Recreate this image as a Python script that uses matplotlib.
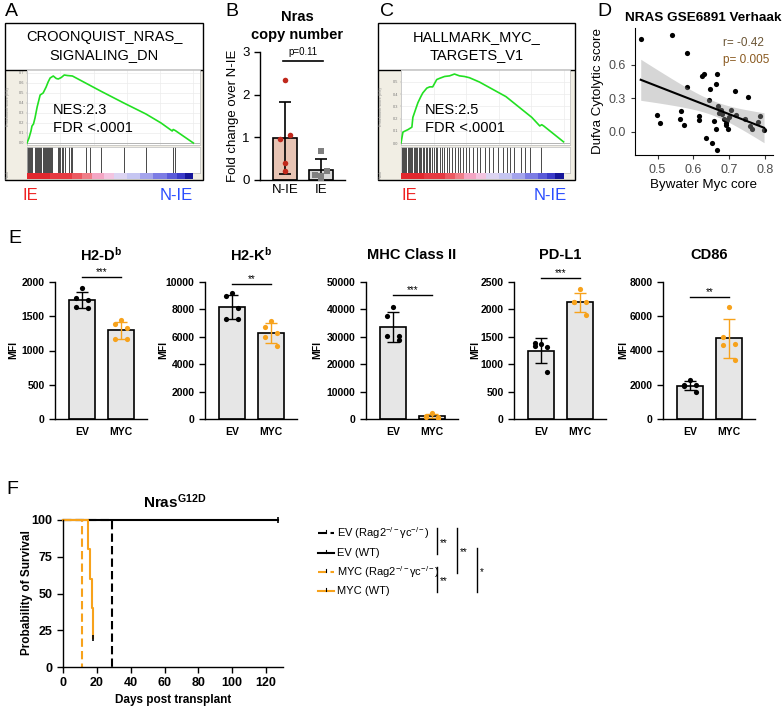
import numpy as np
import matplotlib
matplotlib.use("Agg")
import matplotlib.pyplot as plt
from matplotlib.patches import Rectangle

plt.rcParams["font.family"] = ["Liberation Sans", "DejaVu Sans"]
plt.rcParams["mathtext.fontset"] = "custom"
plt.rcParams["mathtext.rm"] = "Liberation Sans"
plt.rcParams["mathtext.it"] = "Liberation Sans:italic"
plt.rcParams["mathtext.bf"] = "Liberation Sans:bold"
plt.rcParams["axes.linewidth"] = 1.0

# ---------------- data ----------------
# A / C : GSEA running enrichment score, rank given as % of the ranked list
es_a_rank = [0, 1.2, 2.4, 3.0, 3.9, 4.8, 6.1, 7.3, 7.9, 9.7, 11.5, 12.7, 13.9, 15.8,
             17.6, 18.8, 20.6, 22.4, 24.2, 27.3, 35.2, 44.2, 58.2, 71.5, 80.6, 87.3,
             87.9, 89.1, 100]
es_a_score = [0, 0.05, 0.12, 0.17, 0.19, 0.25, 0.36, 0.44, 0.48, 0.50, 0.56, 0.61, 0.65,
              0.67, 0.645, 0.64, 0.655, 0.68, 0.675, 0.67, 0.60, 0.52, 0.40, 0.29, 0.20,
              0.12, 0.135, 0.125, 0.0]
hits_a = [0.3, 0.9, 1.5, 2.1, 2.7, 3.3, 4.8, 5.5, 6.1, 6.7, 7.3, 7.9, 8.5, 9.7, 10.3,
          10.9, 11.5, 12.1, 12.7, 13.3, 13.9, 14.5, 15.2, 18.8, 19.4, 20.0, 20.9, 21.8,
          22.7, 25.5, 26.4, 27.3, 35.2, 37.6, 44.2, 58.2, 71.5, 87.9, 89.1]

es_c_rank = [0, 1.2, 4.3, 6.7, 7.3, 9.1, 10.4, 12.2, 13.4, 15.9, 17.7, 19.5, 22.0, 23.8,
             26.8, 29.9, 32.9, 36.0, 39.0, 42.1, 48.2, 64.6, 80.5, 85.4, 86.6, 87.8, 100]
es_c_score = [0, 0.09, 0.11, 0.13, 0.21, 0.28, 0.33, 0.38, 0.41, 0.45, 0.46, 0.46, 0.52,
              0.53, 0.545, 0.55, 0.565, 0.55, 0.545, 0.535, 0.50, 0.38, 0.21, 0.14, 0.15,
              0.14, 0.01]
hits_c = [0.5, 1.2, 2.0, 2.6, 3.3, 4.1, 4.8, 5.6, 6.2, 7.0, 7.8, 8.5, 9.3, 10.1, 11.0,
          11.8, 12.6, 13.5, 14.2, 15.1, 16.0, 17.0, 17.9, 19.0, 20.1, 21.3, 22.4, 23.8,
          25.2, 26.5, 28.0, 29.6, 31.3, 33.0, 34.8, 36.5, 38.3, 40.2, 42.0, 44.3, 46.5,
          48.9, 51.5, 54.1, 56.8, 59.5, 62.5, 65.0, 67.0, 69.5, 73.8, 76.2, 79.3, 86.0]
rank_edges = [0, 14, 27, 33, 39, 46, 52, 60, 68, 76, 84, 90, 95, 100]
rank_colors = ["#e2282e", "#e63a42", "#ec5a62", "#f07e88", "#f4a6c4", "#f3c4e0",
               "#dcd4f2", "#c6c6f2", "#a4a4ec", "#7c7ce4", "#5a5ad8", "#3b3bc8", "#16169a"]

# B : Nras copy number
b_groups = ["N-IE", "IE"]
b_nie = [2.35, 1.05, 0.95, 0.40, 0.20]
b_ie = [0.68, 0.20, 0.12, 0.10, 0.02]

# D : Bywater Myc core vs Dufva cytolytic score
d_myc = [0.453, 0.541, 0.583, 0.583, 0.497, 0.508, 0.563, 0.566, 0.574, 0.616, 0.616,
         0.624, 0.630, 0.634, 0.645, 0.643, 0.651, 0.657, 0.662, 0.665, 0.664, 0.665,
         0.668, 0.676, 0.680, 0.686, 0.690, 0.694, 0.697, 0.692, 0.704, 0.717, 0.720,
         0.743, 0.753, 0.758, 0.763, 0.781, 0.786, 0.797, 0.672, 0.700]
d_cyt = [0.83, 0.87, 0.71, 0.40, 0.15, 0.08, 0.12, 0.19, 0.06, 0.14, 0.11, 0.50, 0.52,
         -0.05, 0.38, 0.29, -0.10, 0.10, 0.03, 0.52, 0.43, -0.16, 0.23, 0.20, 0.16, 0.12,
         0.08, 0.11, 0.03, 0.06, 0.20, 0.37, 0.15, 0.12, 0.31, 0.05, 0.03, 0.09, 0.14,
         0.02, 0.17, 0.13]

# E : MFI of surface markers
e_titles = ["H2-D$^{\\mathbf{b}}$", "H2-K$^{\\mathbf{b}}$", "MHC Class II", "PD-L1", "CD86"]
e_groups = ["EV", "MYC"]
e_ev = [[1910, 1760, 1740, 1640, 1620],
        [9200, 9000, 8100, 7300, 7300],
        [40900, 37500, 30200, 30200, 29000],
        [1360, 1340, 1320, 1380, 850],
        [2250, 2000, 2000, 1900, 1560]]
e_myc = [[1445, 1380, 1325, 1165, 1165],
         [7150, 6700, 6250, 5950, 5300],
         [2200, 1000, 800, 600, 500],
         [2370, 2130, 2130, 2130, 1890],
         [6550, 4800, 4400, 4350, 3470]]
e_yticks = [[0, 500, 1000, 1500, 2000],
            [0, 2000, 4000, 6000, 8000, 10000],
            [0, 10000, 20000, 30000, 40000, 50000],
            [0, 500, 1000, 1500, 2000, 2500],
            [0, 2000, 4000, 6000, 8000]]
e_stars = ["***", "**", "***", "***", "**"]

# F : survival (days, % survival) and censored points
f_labels = ["EV (Rag2$^{-/-}$γc$^{-/-}$)", "EV (WT)",
            "MYC (Rag2$^{-/-}$γc$^{-/-}$)", "MYC (WT)"]
f_days = [[0, 29], [0, 127], [0, 11], [0, 15, 16, 17, 18]]
f_surv = [[100, 0], [100, 100], [100, 0], [100, 80, 60, 40, 20]]
f_censor = [None, (127, 100), None, (18, 20)]
f_pairs = [(0, 1, "**"), (0, 2, "**"), (1, 3, "*"), (2, 3, "**")]

# ---------------- figure ----------------
W, H = 782, 706
fig = plt.figure(figsize=(W / 100, H / 100), dpi=100)
ORANGE = "#f7a21b"


def px_axes(x0, y0, x1, y1):
    return fig.add_axes([x0 / W, 1 - y1 / H, (x1 - x0) / W, (y1 - y0) / H])


def ftext(x, y, s, **kw):
    return fig.text(x / W, 1 - y / H, s, **kw)


def gsea_panel(bx0, bx1, px0, px1, title, rank, score, hits, yticks, ylim, nes, nes_x):
    frame = px_axes(bx0, 23, bx1, 180)
    frame.set_xlim(bx0, bx1)
    frame.set_ylim(180, 23)
    frame.axis("off")
    frame.add_patch(Rectangle((bx0, 70), bx1 - bx0, 110, facecolor="#f1eee4",
                              edgecolor="none"))
    frame.add_patch(Rectangle((bx0, 23), bx1 - bx0, 157, facecolor="none",
                              edgecolor="black", lw=1.0, clip_on=False))
    frame.plot([bx0, bx1], [70, 70], color="black", lw=1.0)
    frame.text((bx0 + bx1) / 2, 46, title, ha="center", va="center", fontsize=10.5,
               linespacing=1.3)
    frame.text(bx0 + 3, 107, "Enrichment score (ES)", rotation=90, fontsize=2.8,
               color="#888888", ha="center", va="center")
    frame.text(bx0 + 3, 174, "Rank", rotation=90, fontsize=2.8, color="#888888",
               ha="center", va="center")

    ax = px_axes(px0, 70, px1, 145)
    ax.set_facecolor("white")
    ax.plot(rank, score, color="#22e022", lw=1.2, zorder=3)
    ax.axhline(0, color="#aaaaaa", lw=0.6)
    ax.set_xlim(0, 104)
    ax.set_ylim(*ylim)
    ax.set_yticks(yticks)
    ax.set_yticklabels([f"{t:.1f}" for t in yticks], fontsize=2.8, color="#777777")
    ax.set_xticks([0, 20, 40, 60, 80, 100])
    ax.tick_params(axis="x", length=0, labelbottom=False)
    ax.tick_params(axis="y", length=1, width=0.3, pad=1, color="#999999")
    ax.grid(color="#ececec", lw=0.5)
    for s in ax.spines.values():
        s.set_color("#bbbbbb")
        s.set_linewidth(0.5)

    hx = px_axes(px0, 147, px1, 173)
    hx.vlines(hits, 0, 1, color="black", lw=0.5)
    hx.set_xlim(0, 104)
    hx.set_ylim(0, 1)
    hx.set_xticks([])
    hx.set_yticks([])
    for s in hx.spines.values():
        s.set_color("#bbbbbb")
        s.set_linewidth(0.5)

    cx = px_axes(px0, 173, px1, 179)
    for i, c in enumerate(rank_colors):
        cx.axvspan(rank_edges[i], rank_edges[i + 1], color=c, lw=0)
    cx.set_xlim(0, 104)
    cx.axis("off")

    ftext(nes_x, 119, nes, fontsize=10.5, va="center", linespacing=1.3, zorder=5)


# panel letters
for lab, x, y in [("A", 5, 12), ("B", 225, 12), ("C", 380, 12), ("D", 597, 12),
                  ("E", 8, 238), ("F", 6, 490)]:
    ftext(x, y, lab, fontsize=14, va="center")

# A
gsea_panel(5, 203, 27, 200, "CROONQUIST_NRAS_\nSIGNALING_DN", es_a_rank, es_a_score,
           hits_a, [0.0, 0.1, 0.2, 0.3, 0.4, 0.5, 0.6, 0.7], (-0.02, 0.73),
           "NES:2.3\nFDR <.0001", 53)
ftext(30, 196, "IE", color="#ee2222", fontsize=12, ha="center", va="center")
ftext(176, 196, "N-IE", color="#2a4dff", fontsize=12, ha="center", va="center")

# C
gsea_panel(378, 575, 401, 570, "HALLMARK_MYC_\nTARGETS_V1", es_c_rank, es_c_score,
           hits_c, [0.0, 0.1, 0.2, 0.3, 0.4, 0.5], (-0.016, 0.598),
           "NES:2.5\nFDR <.0001", 425)
ftext(409, 196, "IE", color="#ee2222", fontsize=12, ha="center", va="center")
ftext(550, 196, "N-IE", color="#2a4dff", fontsize=12, ha="center", va="center")

# B
axb = px_axes(260, 52, 345, 180)
b_fill = ["#e8c4b4", "#d9d9d9"]
b_pt = ["#c0281c", "#808080"]
b_mk = ["o", "s"]
b_jit = [0.0, 0.14, -0.14, 0.0, 0.0]
for i, vals in enumerate([b_nie, b_ie]):
    m = np.mean(vals)
    sd = np.std(vals, ddof=1)
    axb.bar(i, m, width=0.67, color=b_fill[i], edgecolor="black", lw=1.2, zorder=1)
    axb.errorbar(i, m, yerr=sd, color="black", capsize=4.5, lw=1.2, capthick=1.2,
                 zorder=2)
    axb.scatter(i + np.array(b_jit) * (1 if i == 0 else 1.2), vals,
                marker=b_mk[i], color=b_pt[i], s=16, zorder=3, lw=0)
axb.set_xlim(-0.69, 1.67)
axb.set_ylim(0, 3)
axb.set_yticks([0, 1, 2, 3])
axb.set_xticks([0, 1], labels=b_groups)
axb.tick_params(labelsize=9.5, width=1.0, length=4)
axb.tick_params(axis="x", length=0, pad=3)
axb.spines[["top", "right"]].set_visible(False)
axb.set_ylabel("Fold change over N-IE", fontsize=9.5, labelpad=2)
axb.plot([-0.05, 1.05], [2.8, 2.8], color="black", lw=1.2, clip_on=False)
axb.text(0.5, 2.88, "p=0.11", fontsize=7, ha="center", va="bottom")
ftext(297, 26, "Nras\ncopy number", fontsize=10.5, fontweight="bold", ha="center",
      va="center", linespacing=1.3)

# D
axd = px_axes(635, 28, 773, 155)
dx = np.array(d_myc)
dy = np.array(d_cyt)
slope, icpt = np.polyfit(dx, dy, 1)
xs = np.linspace(dx.min(), dx.max(), 100)
fit = slope * xs + icpt
n = len(dx)
s_res = np.sqrt(np.sum((dy - (slope * dx + icpt)) ** 2) / (n - 2))
se = s_res * np.sqrt(1 / n + (xs - dx.mean()) ** 2 / np.sum((dx - dx.mean()) ** 2))
axd.scatter(dx, dy, s=14, color="black", lw=0, zorder=2)
axd.fill_between(xs, fit - 2.02 * se, fit + 2.02 * se, color="#999999", alpha=0.4,
                 lw=0, zorder=3)
axd.plot(xs, fit, color="black", lw=1.5, zorder=4)
axd.set_xlim(0.437, 0.822)
axd.set_ylim(-0.206, 0.93)
axd.set_xticks([0.5, 0.6, 0.7, 0.8])
axd.set_yticks([0.0, 0.3, 0.6])
axd.tick_params(labelsize=9, labelcolor="#4d4d4d", color="#333333", length=3, width=0.8)
axd.spines[["top", "right"]].set_visible(False)
for s in ["left", "bottom"]:
    axd.spines[s].set_linewidth(0.8)
axd.set_xlabel("Bywater Myc core", fontsize=9.6, labelpad=2)
axd.set_ylabel("Dufva Cytolytic score", fontsize=9.6, labelpad=3)
ftext(703, 18, "NRAS GSE6891 Verhaak", fontsize=9.7, fontweight="bold", ha="center",
      va="center")
ftext(723, 43, "r= -0.42", fontsize=8.5, color="#6b5535", va="center")
ftext(723, 60, "p= 0.005", fontsize=8.5, color="#8a5a20", va="center")

# E
e_x0 = [55, 205, 366, 514, 663]
e_mfi_x = [13, 163, 317, 475, 623]
e_star_y = [2073, 9831, 45330, 2573, 7118]
e_jit = [0.0, -0.15, 0.15, -0.15, 0.15]
for k in range(5):
    ax = px_axes(e_x0[k], 282, e_x0[k] + 92, 419)
    for i, (vals, col) in enumerate([(e_ev[k], "black"), (e_myc[k], ORANGE)]):
        m = np.mean(vals)
        sd = np.std(vals, ddof=1)
        ax.bar(i, m, width=0.67, color="#e6e6e6", edgecolor="black", lw=1.2, zorder=1)
        ax.errorbar(i, m, yerr=sd, color=col, capsize=4.5, lw=1.0, capthick=1.0,
                    zorder=2)
        ax.scatter(i + np.array(e_jit), vals, color=col, s=14, lw=0, zorder=3)
    ax.set_xlim(-0.69, 1.67)
    ax.set_ylim(0, e_yticks[k][-1])
    ax.set_yticks(e_yticks[k], labels=[str(t) for t in e_yticks[k]], fontweight="bold")
    ax.set_xticks([0, 1], labels=e_groups, fontweight="bold")
    ax.tick_params(labelsize=7.5, width=1.0, length=4)
    ax.tick_params(axis="x", length=0, pad=6)
    ax.spines[["top", "right"]].set_visible(False)
    ax.plot([0, 1], [e_star_y[k]] * 2, color="black", lw=1.0, clip_on=False)
    ax.text(0.5, e_star_y[k], e_stars[k], fontsize=7, ha="center", va="bottom")
    ftext(e_x0[k] + 46, 255, e_titles[k], fontsize=10.5, fontweight="bold",
          ha="center", va="center")
    ftext(e_mfi_x[k], 350, "MFI", fontsize=7.5, fontweight="bold", rotation=90,
          ha="center", va="center")

# F
axf = px_axes(63, 520, 283, 667)
f_col = ["black", "black", ORANGE, ORANGE]
f_ls = [(0, (4, 2)), "-", (0, (4, 2)), "-"]
for i in range(4):
    axf.step(f_days[i], f_surv[i], where="post", color=f_col[i], ls=f_ls[i],
             lw=1.5, clip_on=False)
    if f_censor[i] is not None:
        axf.plot(*f_censor[i], marker="|", color="black", ms=4, mew=1.2, clip_on=False)
axf.set_xlim(0, 130)
axf.set_ylim(0, 100)
axf.set_xticks(range(0, 121, 20), labels=[str(t) for t in range(0, 121, 20)],
               fontweight="bold")
axf.set_yticks([0, 25, 50, 75, 100], labels=["0", "25", "50", "75", "100"],
               fontweight="bold")
axf.tick_params(labelsize=9, width=1.0, length=4)
axf.spines[["top", "right"]].set_visible(False)
ftext(27, 593, "Probability of Survival", fontsize=8.5, fontweight="bold", rotation=90,
      ha="center", va="center")
ftext(173, 700, "Days post transplant", fontsize=8.5, fontweight="bold", ha="center",
      va="center")
ftext(175, 502, "Nras$^{\\mathbf{G12D}}$", fontsize=11, fontweight="bold",
      ha="center", va="center")

# legend + comparison brackets
leg_y = [533, 553, 572, 591]
for i in range(4):
    y = 1 - leg_y[i] / H
    fig.add_artist(plt.Line2D([318 / W, 334 / W], [y, y], color=f_col[i], ls=f_ls[i],
                              lw=1.5))
    fig.add_artist(plt.Line2D([326 / W, 326 / W], [y, y + 3 / H], color="black",
                              lw=0.8))
    ftext(337, leg_y[i], f_labels[i], fontsize=8, va="center")
br_x = {(0, 1): 437, (2, 3): 437, (0, 2): 457, (1, 3): 477}
for a, b, star in f_pairs:
    x = br_x[(a, b)]
    y0 = 1 - (leg_y[a] - 5) / H
    y1 = 1 - (leg_y[b] + 1) / H
    fig.add_artist(plt.Line2D([x / W, x / W], [y0, y1], color="black", lw=1.0))
    ftext(x + 3, (leg_y[a] + leg_y[b]) / 2, star, fontsize=7, va="center")

fig.savefig("out.png", dpi=100)
